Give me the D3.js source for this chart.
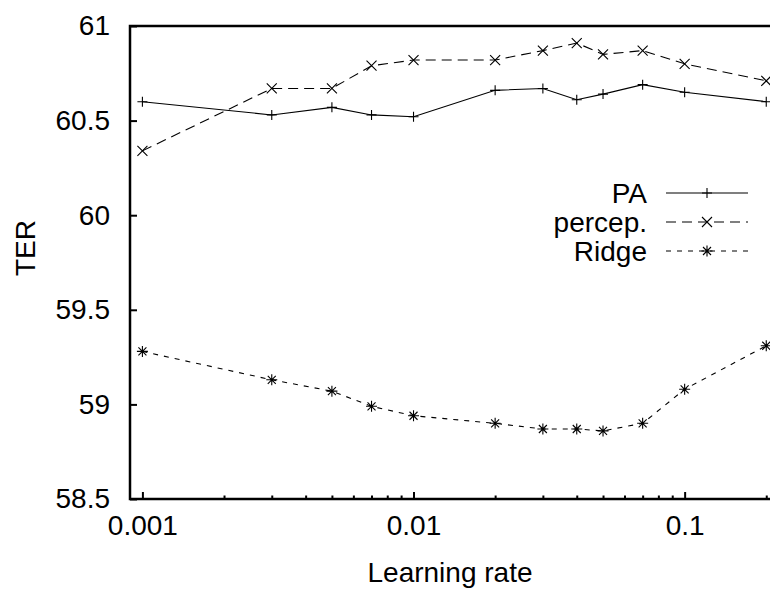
<!DOCTYPE html>
<html>
<head>
<meta charset="utf-8">
<script src="https://cdn.jsdelivr.net/npm/d3@7/dist/d3.min.js"></script>
<style>
  html, body { margin: 0; padding: 0; background: #fff; }
  svg { display: block; font-family: "Liberation Sans", Arial, sans-serif; }
</style>
</head>
<body>
<svg id="chart" width="770" height="589"></svg>
<script>
// Learning rates tried
const rates = [0.001, 0.003, 0.005, 0.007, 0.01, 0.02, 0.03, 0.04, 0.05, 0.07, 0.1, 0.2];

// TER per learning rate for each method
const paTER      = [60.60, 60.53, 60.57, 60.53, 60.52, 60.66, 60.67, 60.61, 60.64, 60.69, 60.65, 60.60];
const perceptTER = [60.34, 60.67, 60.67, 60.79, 60.82, 60.82, 60.87, 60.91, 60.85, 60.87, 60.80, 60.71];
const ridgeTER   = [59.28, 59.13, 59.07, 58.99, 58.94, 58.90, 58.87, 58.87, 58.86, 58.90, 59.08, 59.31];

const seriesNames = ["PA", "percep.", "Ridge"];
const xTickValues = [0.001, 0.01, 0.1];
const xTickLabels = ["0.001", "0.01", "0.1"];
const yTickValues = [58.5, 59, 59.5, 60, 60.5, 61];
const yTickLabels = ["58.5", "59", "59.5", "60", "60.5", "61"];

const svg = d3.select("#chart");
const mLeft = 130, mRight = 772, mTop = 26, mBottom = 499;

const x = d3.scaleLog().domain([0.0009, 0.21]).range([mLeft, mRight]);
const y = d3.scaleLinear().domain([58.5, 61]).range([mBottom, mTop]);

const series = [
  { name: seriesNames[0], values: paTER, dash: null, marker: "plus" },
  { name: seriesNames[1], values: perceptTER, dash: "10,6", marker: "cross" },
  { name: seriesNames[2], values: ridgeTER, dash: "5,6", marker: "star" }
];

// marker shapes as path strings around (0,0)
function markerPath(kind) {
  const p = 5, c = 5;
  if (kind === "plus") return `M${-p},0H${p}M0,${-p}V${p}`;
  if (kind === "cross") return `M${-c},${-c}L${c},${c}M${-c},${c}L${c},${-c}`;
  const s = 4;
  return `M${-5.5},0H${5.5}M0,${-5.5}V${5.5}M${-s},${-s}L${s},${s}M${-s},${s}L${s},${-s}`;
}

svg.append("clipPath").attr("id", "clip")
  .append("rect").attr("x", mLeft).attr("y", mTop - 10)
  .attr("width", 770 - mLeft).attr("height", mBottom - mTop + 20);

const body = svg.append("g").attr("clip-path", "url(#clip)");

const line = d3.line().x((d, i) => x(rates[i])).y(d => y(d));

series.forEach(s => {
  body.append("path")
    .datum(s.values)
    .attr("d", line)
    .attr("fill", "none")
    .attr("stroke", "#000")
    .attr("stroke-width", 1.1)
    .attr("stroke-dasharray", s.dash);
  body.selectAll(null)
    .data(s.values)
    .enter().append("path")
    .attr("d", markerPath(s.marker))
    .attr("transform", (d, i) => `translate(${x(rates[i])},${y(d)})`)
    .attr("fill", "none")
    .attr("stroke", "#000")
    .attr("stroke-width", 1.1);
});

// x axis: major and minor ticks drawn inward
const minorTicks = [];
[0.001, 0.01, 0.1].forEach(dec => {
  for (let k = 2; k <= 9; k++) {
    const v = dec * k;
    if (v <= 0.21) minorTicks.push(v);
  }
});

const xAxisMajor = d3.axisBottom(x).tickValues(xTickValues)
  .tickFormat((d, i) => xTickLabels[i]).tickSizeInner(-7).tickSizeOuter(0).tickPadding(16);
const gx = svg.append("g").attr("transform", `translate(0,${mBottom})`).call(xAxisMajor);
gx.select(".domain").remove();
gx.selectAll(".tick line").attr("stroke", "#000").attr("stroke-width", 2);
gx.selectAll(".tick text").attr("font-size", 28).attr("fill", "#000")
  .attr("font-family", "Liberation Sans, Arial, sans-serif");

const xAxisMinor = d3.axisBottom(x).tickValues(minorTicks).tickFormat("").tickSizeInner(-3.5).tickSizeOuter(0);
const gxm = svg.append("g").attr("transform", `translate(0,${mBottom})`).call(xAxisMinor);
gxm.select(".domain").remove();
gxm.selectAll(".tick line").attr("stroke", "#000").attr("stroke-width", 2);

// y axis
const yAxis = d3.axisLeft(y).tickValues(yTickValues)
  .tickFormat((d, i) => yTickLabels[i]).tickSizeInner(-7).tickSizeOuter(0).tickPadding(20);
const gy = svg.append("g").attr("transform", `translate(${mLeft},0)`).call(yAxis);
gy.select(".domain").remove();
gy.selectAll(".tick line").attr("stroke", "#000").attr("stroke-width", 2);
gy.selectAll(".tick text").attr("font-size", 28).attr("fill", "#000")
  .attr("font-family", "Liberation Sans, Arial, sans-serif");

// frame: left, bottom, top
svg.append("path")
  .attr("d", `M${mRight + 10},${mTop}H${mLeft}V${mBottom}H${mRight + 10}`)
  .attr("fill", "none").attr("stroke", "#000").attr("stroke-width", 2.5);

// axis titles
svg.append("text")
  .attr("x", 450).attr("y", 582)
  .attr("text-anchor", "middle").attr("font-size", 28).attr("fill", "#000")
  .text("Learning rate");
svg.append("text")
  .attr("transform", "translate(35,248) rotate(-90)")
  .attr("text-anchor", "middle").attr("font-size", 28).attr("fill", "#000")
  .text("TER");

// legend
const legend = svg.append("g");
series.forEach((s, i) => {
  const cy = 193 + i * 29;
  legend.append("text")
    .attr("x", 647).attr("y", cy + 10)
    .attr("text-anchor", "end").attr("font-size", 28).attr("fill", "#000")
    .text(s.name);
  legend.append("line")
    .attr("x1", 666).attr("x2", 748).attr("y1", cy).attr("y2", cy)
    .attr("stroke", "#000").attr("stroke-width", 1.1)
    .attr("stroke-dasharray", s.dash);
  legend.append("path")
    .attr("d", markerPath(s.marker))
    .attr("transform", `translate(707,${cy})`)
    .attr("fill", "none").attr("stroke", "#000").attr("stroke-width", 1.1);
});
</script>
</body>
</html>
